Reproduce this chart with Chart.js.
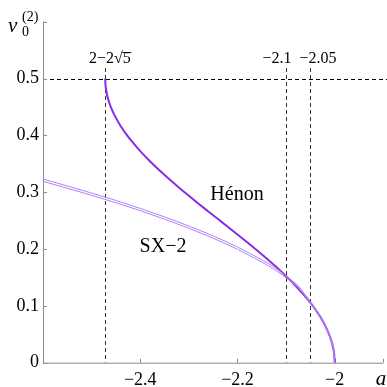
<!DOCTYPE html>
<html>
<head>
<meta charset="utf-8">
<script src="https://cdn.jsdelivr.net/npm/chart.js@4"></script>
<style>
  html, body { margin: 0; padding: 0; background: #fff; }
  #wrap { width: 387px; height: 387px; }
</style>
</head>
<body>
<div id="wrap"><canvas id="nuChart" width="387" height="387"></canvas></div>
<script>
// parameter a and rotation number of the period-2 orbit
const henonA  = [-2.472, -2.4715, -2.471, -2.468, -2.464, -2.46, -2.45, -2.44, -2.43, -2.42, -2.40, -2.38, -2.36, -2.34, -2.32, -2.30, -2.28, -2.26, -2.24, -2.22, -2.20, -2.18, -2.16, -2.14, -2.12, -2.10, -2.08, -2.06, -2.05, -2.04, -2.03, -2.02, -2.015, -2.01, -2.005, -2.003, -2.001, -2.0];
const henonNu = [0.5, 0.4896, 0.4853, 0.4707, 0.4584, 0.449, 0.4308, 0.4161, 0.4035, 0.3923, 0.3723, 0.3545, 0.338, 0.3226, 0.3079, 0.2937, 0.2798, 0.2662, 0.2527, 0.2392, 0.2256, 0.2119, 0.1978, 0.1833, 0.1682, 0.152, 0.135, 0.116, 0.1057, 0.0941, 0.0812, 0.0659, 0.057, 0.0465, 0.0328, 0.0254, 0.0147, 0];

// SX-2 is drawn as a thin double line
const sxA   = [-2.6, -2.55, -2.5, -2.45, -2.4, -2.35, -2.3, -2.25, -2.2, -2.15, -2.125, -2.1, -2.075, -2.05, -2.03, -2.015, -2.005, -2.001, -2.0];
const sxNu1 = [0.323, 0.311, 0.2985, 0.2855, 0.2715, 0.2565, 0.2405, 0.223, 0.2035, 0.181, 0.1685, 0.1525, 0.135, 0.1065, 0.0815, 0.0575, 0.033, 0.015, 0];
const sxNu2 = [0.319, 0.307, 0.2945, 0.2815, 0.2675, 0.2525, 0.2365, 0.219, 0.1995, 0.177, 0.1645, 0.1495, 0.132, 0.1045, 0.0795, 0.0555, 0.031, 0.013, 0];

const xTicks = [-2.4, -2.2, -2.0];
const yTicks = [0, 0.1, 0.2, 0.3, 0.4, 0.5];
const markA = [2 - 2 * Math.sqrt(5), -2.1, -2.05];

const pts = (xs, ys) => xs.map((x, i) => ({ x: x, y: ys[i] }));
const serif = '"Liberation Serif", "Times New Roman", Times, serif';
const minus = v => (v < 0 ? '\u2212' : '') + Math.abs(v);

const decor = {
  id: 'decor',
  beforeDatasetsDraw(chart) {
    const { ctx, chartArea: ca, scales: { x, y } } = chart;
    ctx.save();
    ctx.strokeStyle = '#000';
    ctx.lineWidth = 1;
    ctx.setLineDash([4, 3]);
    // horizontal line at 0.5
    const y5 = Math.round(y.getPixelForValue(0.5)) + 0.5;
    ctx.beginPath(); ctx.moveTo(ca.left, y5); ctx.lineTo(chart.width, y5); ctx.stroke();
    // vertical markers
    ctx.strokeStyle = '#333';
    markA.forEach(a => {
      const px = Math.round(x.getPixelForValue(a)) + 0.5;
      ctx.beginPath(); ctx.moveTo(px, 68); ctx.lineTo(px, ca.bottom); ctx.stroke();
    });
    ctx.setLineDash([]);
    // axes with inward ticks
    ctx.strokeStyle = '#8c8c8c';
    ctx.beginPath();
    ctx.moveTo(ca.left + 0.5, ca.top); ctx.lineTo(ca.left + 0.5, ca.bottom + 0.5);
    ctx.lineTo(ca.right, ca.bottom + 0.5);
    ctx.stroke();
    ctx.beginPath();
    yTicks.concat([0.6]).forEach(v => {
      const py = Math.round(y.getPixelForValue(v)) + 0.5;
      ctx.moveTo(ca.left, py); ctx.lineTo(ca.left + 4, py);
    });
    xTicks.concat([-1.9]).forEach(v => {
      const px = Math.round(x.getPixelForValue(v)) + 0.5;
      ctx.moveTo(px, ca.bottom); ctx.lineTo(px, ca.bottom - 4);
    });
    ctx.stroke();
    ctx.restore();
  },
  afterDraw(chart) {
    const { ctx } = chart;
    ctx.save();
    ctx.fillStyle = '#000';
    ctx.textBaseline = 'alphabetic';
    // marker labels
    ctx.font = '16px ' + serif;
    ctx.textAlign = 'left';
    const head = '2\u22122\u221A';
    const hw = ctx.measureText(head).width;
    const fw = ctx.measureText('5').width;
    const x0 = 89;
    ctx.fillText(head, x0, 63);
    ctx.fillText('5', x0 + hw, 63);
    ctx.fillRect(x0 + hw - 0.5, 52, fw + 1, 0.9);
    ctx.textAlign = 'center';
    ctx.fillText('\u22122.1', 277, 63);
    ctx.fillText('\u22122.05', 318, 63);
    // curve labels
    ctx.font = '20px ' + serif;
    ctx.fillText('H\u00e9non', 237, 200);
    ctx.fillText('SX\u22122', 163, 252);
    // axis titles
    ctx.font = 'italic 21px ' + serif;
    ctx.fillText('a', 381, 385);
    ctx.textAlign = 'left';
    ctx.fillText('\u03BD', 8, 32);
    ctx.font = '14px ' + serif;
    ctx.fillText('0', 22, 36);
    ctx.fillText('(2)', 22, 21);
    ctx.restore();
  }
};

new Chart(document.getElementById('nuChart'), {
  type: 'line',
  data: {
    datasets: [
      { data: pts(sxA, sxNu1), borderColor: '#b080f2', borderWidth: 1, pointRadius: 0, cubicInterpolationMode: 'monotone' },
      { data: pts(sxA, sxNu2), borderColor: '#b080f2', borderWidth: 1, pointRadius: 0, cubicInterpolationMode: 'monotone' },
      { data: pts(henonA, henonNu), borderColor: '#8a2be2', borderWidth: 2, pointRadius: 0, cubicInterpolationMode: 'monotone' }
    ]
  },
  options: {
    responsive: false,
    animation: false,
    events: [],
    layout: { padding: { top: 21.7, right: 3.7, left: 0, bottom: 0 } },
    plugins: { legend: { display: false }, tooltip: { enabled: false } },
    scales: {
      x: {
        type: 'linear', min: -2.6, max: -1.9,
        grid: { display: false, drawTicks: false, tickLength: 0 }, border: { display: false },
        afterBuildTicks: s => { s.ticks = xTicks.map(v => ({ value: v })); },
        afterFit: s => { s.height = 24.3; },
        ticks: { padding: 7, color: '#000', font: { family: serif, size: 18 }, maxRotation: 0,
                 callback: v => minus(Math.round(v * 10) / 10) }
      },
      y: {
        type: 'linear', min: 0, max: 0.6,
        grid: { display: false, drawTicks: false, tickLength: 0 }, border: { display: false },
        afterBuildTicks: s => { s.ticks = yTicks.map(v => ({ value: v })); },
        afterFit: s => { s.width = 43; },
        ticks: { padding: 4, color: '#000', font: { family: serif, size: 18 },
                 callback: v => v === 0 ? '0' : v.toFixed(1) }
      }
    }
  },
  plugins: [decor]
});
</script>
</body>
</html>
